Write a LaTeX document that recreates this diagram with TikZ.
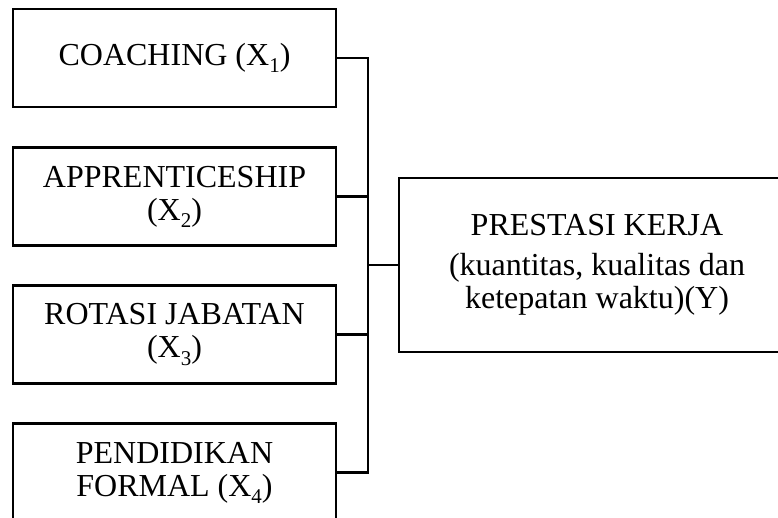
\documentclass[tikz,border=0pt]{standalone}
\usepackage{fontspec}
\setmainfont{Liberation Serif}
\usetikzlibrary{calc}
\newcommand{\indeks}[1]{\raisebox{-.22em}{\fontsize{21}{21}\selectfont #1}}

\begin{document}
\begin{tikzpicture}[x=1pt,y=-1pt,
		kotak/.style={draw,line width=2.5pt,minimum width=323pt,minimum height=98pt,
			inner sep=0pt,align=center,font=\fontsize{32}{33}\selectfont},
		garis/.style={line width=2.5pt}]
			%%%%% START %%%%%
			\useasboundingbox (0,0) rectangle (778,517);
			\clip (0,0) rectangle (778,517);
			
			\node[kotak] (x1) at (174.5,58) {COACHING (X\indeks{1})};
			\node[kotak] (x2) at (174.5,196.5) {APPRENTICESHIP\\(X\indeks{2})};
			\node[kotak] (x3) at (174.5,334.5) {ROTASI JABATAN\\(X\indeks{3})};
			\node[kotak] (x4) at (174.5,472.5) {PENDIDIKAN\\FORMAL (X\indeks{4})};
			
			\node[kotak,minimum width=396pt,minimum height=174pt] (y) at (597,265)
				{PRESTASI KERJA\\[7pt](kuantitas, kualitas dan\\ketepatan waktu)(Y)};
			
			\coordinate (bus) at (368,265);
			\foreach \x in {x1,x2,x3,x4}
				\draw[garis] (\x.east) -| (bus);
			\draw[garis] (bus) -- (y.west);
			%%%%% END %%%%%
\end{tikzpicture}
\end{document}
